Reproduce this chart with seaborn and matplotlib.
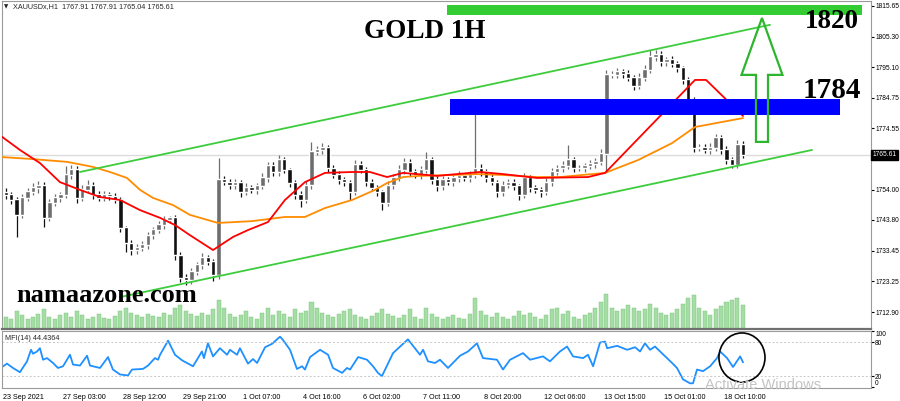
import numpy as np
import pandas as pd
import matplotlib
matplotlib.use('Agg')
import matplotlib.pyplot as plt
from matplotlib.patches import Ellipse, FancyArrow
import seaborn as sns

# XAUUSD H1, read as 3-hour candles; x is measured in hourly bars from 23 Sep
first_open = 1753.0
closes = [
    1752.2, 1750.5, 1745.5, 1751.2, 1753.2, 1754.5, 1755.5, 1744.5, 1749.5, 1751.2,
    1752.2, 1758.9, 1760.6, 1751.2, 1753.9, 1755.5, 1752.2, 1751.2, 1752.2, 1751.8,
    1750.5, 1741.1, 1736.0, 1733.7, 1734.4, 1735.4, 1738.7, 1740.4, 1742.1, 1743.8,
    1744.5, 1732.0, 1724.3, 1723.6, 1726.3, 1728.7, 1731.0, 1729.7, 1725.3, 1757.2,
    1756.5, 1755.5, 1756.2, 1753.2, 1754.5, 1753.9, 1755.2, 1757.9, 1761.9, 1759.9,
    1763.9, 1760.6, 1756.2, 1752.2, 1750.5, 1755.5, 1766.6, 1767.3, 1768.0, 1761.2,
    1758.9, 1757.2, 1756.5, 1753.2, 1762.3, 1760.6, 1756.5, 1754.5, 1753.2, 1749.5,
    1755.5, 1757.9, 1760.6, 1762.9, 1759.9, 1758.9, 1760.6, 1763.9, 1757.2, 1755.2,
    1757.2, 1756.5, 1757.9, 1758.6, 1757.9, 1758.9, 1761.2, 1759.9, 1757.9, 1756.5,
    1753.2, 1755.5, 1756.5, 1755.2, 1752.2, 1757.9, 1754.5, 1753.9, 1753.2, 1756.5,
    1759.9, 1761.2, 1761.9, 1763.9, 1761.2, 1761.2, 1761.9, 1762.6, 1763.3, 1766.0,
    1792.5, 1792.5, 1793.5, 1792.8, 1791.5, 1788.8, 1791.5, 1794.2, 1798.5, 1799.2,
    1796.8, 1797.5, 1796.2, 1794.8, 1790.8, 1784.1, 1768.0, 1768.0, 1767.3, 1768.0,
    1771.3, 1767.3, 1763.9, 1762.3, 1769.0, 1765.61,
]
wick_up = [
    1.5, 1.0, 1.0, 1.4, 1.2, 1.6, 1.5, 1.0, 1.3, 1.2,
    1.0, 3.1, 1.6, 1.2, 1.5, 1.8, 1.0, 1.2, 1.4, 1.0,
    1.1, 1.0, 0.8, 1.0, 1.3, 1.5, 1.2, 1.0, 1.4, 1.2,
    0.6, 0.8, 1.0, 1.2, 1.5, 1.0, 1.8, 1.2, 1.0, 7.4,
    1.5, 1.2, 1.4, 1.0, 1.6, 1.2, 1.0, 1.8, 1.5, 1.2,
    1.6, 1.0, 0.8, 1.0, 1.2, 1.5, 3.4, 1.2, 1.6, 1.0,
    1.2, 1.4, 1.0, 0.8, 1.6, 1.2, 1.0, 1.2, 1.0, 0.8,
    1.5, 1.2, 1.6, 1.8, 1.2, 1.0, 1.4, 2.7, 1.0, 1.2,
    1.4, 1.0, 1.2, 1.5, 1.0, 1.2, 20.2, 1.4, 1.0, 1.2,
    0.8, 1.4, 1.2, 1.0, 0.8, 1.6, 1.0, 1.2, 1.0, 1.5,
    1.4, 1.2, 1.6, 5.1, 1.0, 1.2, 1.0, 1.4, 1.2, 1.6,
    1.5, 1.2, 1.4, 1.0, 1.2, 1.0, 1.5, 1.6, 2.4, 1.7,
    1.2, 1.0, 1.2, 1.0, 0.8, 1.0, 1.0, 1.2, 1.4, 1.6,
    1.5, 1.0, 1.2, 1.0, 1.6, 1.2,
]
wick_dn = [
    1.2, 1.4, 7.4, 1.0, 1.2, 1.0, 1.5, 3.1, 1.2, 1.0,
    1.4, 1.0, 1.2, 1.6, 1.0, 1.2, 1.4, 1.0, 1.2, 1.3,
    1.0, 1.5, 3.0, 1.6, 1.2, 1.0, 1.2, 1.4, 1.0, 1.2,
    1.0, 1.6, 1.4, 1.8, 1.2, 1.0, 1.2, 1.0, 2.1, 1.2,
    1.0, 1.4, 1.2, 1.6, 1.0, 1.2, 1.4, 1.0, 1.2, 1.5,
    1.2, 1.0, 1.4, 1.2, 2.3, 1.0, 1.2, 1.0, 1.4, 1.2,
    1.0, 1.2, 1.4, 2.7, 1.0, 1.2, 1.4, 1.0, 1.2, 2.4,
    1.0, 1.2, 1.0, 1.4, 1.2, 1.0, 1.2, 1.0, 1.4, 1.6,
    1.2, 1.0, 1.4, 1.2, 1.0, 1.2, 1.0, 1.4, 1.2, 1.0,
    1.6, 1.2, 1.0, 1.2, 1.7, 1.0, 1.4, 1.2, 1.6, 1.0,
    1.2, 1.0, 1.4, 1.0, 1.2, 1.0, 1.2, 1.0, 1.2, 1.0,
    6.0, 1.2, 1.0, 1.4, 1.2, 1.5, 1.0, 1.2, 1.0, 1.2,
    1.4, 1.2, 1.0, 1.2, 1.5, 1.2, 1.4, 1.2, 1.0, 1.2,
    1.0, 1.4, 1.2, 1.0, 1.2, 1.0,
]
volumes = [
    12, 10, 18, 14, 10, 12, 15, 20, 12, 10,
    14, 16, 12, 18, 14, 10, 12, 15, 11, 10,
    13, 18, 22, 16, 14, 12, 15, 13, 12, 16,
    14, 22, 25, 18, 15, 13, 16, 14, 20, 30,
    22, 15, 12, 14, 18, 12, 10, 16, 22, 14,
    18, 15, 12, 20, 16, 18, 28, 22, 16, 14,
    12, 15, 18, 20, 14, 12, 10, 13, 16, 20,
    15, 13, 11, 14, 20, 12, 10, 22, 15, 12,
    10, 12, 14, 11, 10, 15, 32, 18, 14, 12,
    16, 12, 10, 13, 18, 14, 16, 12, 10, 14,
    20, 22, 15, 18, 12, 10, 14, 16, 22, 28,
    36, 22, 18, 20, 25, 22, 18, 20, 26, 22,
    16, 14, 16, 20, 26, 32, 35, 22, 18, 14,
    20, 24, 28, 30, 32, 25,
]

# moving averages (orange = slow, red = fast/shifted)
ma_slow_hours = [-0.5, 14.8, 35.2, 49.5, 58.8, 68.1, 75.3, 82.4, 93.4, 102.7, 118.1, 136.8,
                 154.9, 165.9, 176.9, 191.8, 204.4, 211.0, 219.8, 229.1, 247.3, 260.4,
                 274.7, 293.4, 306.0, 330.8, 348.9, 367.6, 380.2, 395.1, 406.6]
ma_slow = [1764.9, 1764.3, 1763.3, 1761.6, 1759.9, 1757.9, 1753.9, 1751.2, 1748.8, 1745.5,
           1742.8, 1743.4, 1744.8, 1744.8, 1747.8, 1750.5, 1753.9, 1756.2, 1758.2, 1758.6,
           1758.9, 1759.2, 1758.9, 1758.2, 1758.2, 1759.6, 1763.9, 1769.6, 1775.0, 1776.7,
           1778.0]
ma_fast_hours = [-0.5, 9.3, 20.3, 31.3, 42.3, 53.3, 64.3, 75.3, 86.3, 94.5, 102.7, 115.4,
                 126.4, 134.6, 145.6, 154.9, 165.9, 176.9, 191.8, 201.6, 211.0, 219.8,
                 238.5, 262.1, 274.7, 293.4, 321.4, 330.8, 380.2, 386.3, 406.6]
ma_fast = [1771.7, 1767.3, 1762.9, 1756.5, 1753.9, 1751.5, 1750.5, 1747.1, 1744.5, 1742.1,
           1738.7, 1733.7, 1738.1, 1740.4, 1743.1, 1750.5, 1756.5, 1759.6, 1759.9, 1759.9,
           1758.2, 1759.6, 1758.6, 1759.9, 1759.2, 1757.9, 1758.2, 1759.6, 1790.8, 1790.8,
           1778.7]

# trend channel, levels
upper_ch_hours = [42.3, 421.4]
upper_ch = [1759.9, 1809.3]
lower_ch_hours = [64.3, 444.5]
lower_ch = [1717.9, 1767.3]

# MFI(14)
mfi_hours = [-0.5, 2.2, 5.5, 9.3, 13.2, 15.4, 16.5, 18.7, 20.3, 22.0, 24.2, 27.5, 30.2, 33.0,
             36.8, 38.5, 42.3, 46.2, 47.8, 53.3, 57.7, 60.4, 64.3, 68.7, 70.9, 76.9, 79.7,
             83.5, 85.2, 86.3, 90.7, 94.5, 98.4, 104.4, 109.3, 110.4, 112.6, 115.4, 119.2,
             123.1, 124.7, 128.6, 130.2, 134.6, 137.4, 139.6, 144.0, 147.8, 152.2, 153.8,
             157.7, 161.5, 164.3, 165.9, 168.7, 174.2, 178.6, 181.3, 186.3, 189.0, 190.7,
             195.1, 200.0, 203.3, 206.0, 208.2, 214.3, 219.2, 222.5, 229.1, 230.8, 233.5,
             237.4, 240.1, 244.5, 251.1, 255.5, 260.4, 263.7, 271.4, 274.7, 278.6, 285.7,
             289.6, 296.7, 300.5, 306.0, 309.9, 313.2, 318.7, 321.4, 324.2, 328.0, 330.8,
             331.9, 337.4, 342.9, 347.3, 350.0, 352.7, 355.5, 358.2, 364.8, 367.6, 370.3,
             373.6, 377.5, 379.1, 381.3, 384.6, 388.5, 392.3, 394.0, 397.8, 401.1, 405.0,
             406.6]
mfi = [36.2, 42.2, 34.5, 27.0, 46.2, 66.7, 59.7, 63.7, 69.5, 49.1, 52.0, 43.3, 34.5, 37.5,
       57.9, 40.5, 38.8, 56.2, 38.8, 34.5, 53.8, 31.7, 23.0, 21.2, 31.7, 32.8, 38.8,
       52.0, 49.1, 57.9, 82.9, 57.9, 48.0, 37.5, 63.7, 52.0, 78.2, 55.0, 69.5,
       57.9, 66.7, 57.9, 69.5, 42.2, 50.3, 43.3, 71.2, 77.2, 89.9, 84.2,
       66.7, 32.8, 37.5, 31.7, 53.8, 66.7, 57.9, 34.5, 25.8, 34.5, 31.7,
       53.8, 49.1, 37.5, 25.8, 20.1, 60.8, 75.5, 85.2, 57.9, 66.7, 46.2,
       43.3, 49.1, 34.5, 56.2, 63.7, 78.2, 52.0, 49.1, 31.7, 49.1, 60.8,
       49.1, 55.0, 46.2, 63.7, 72.5, 55.0, 52.0, 57.9, 37.5, 79.5, 81.2,
       69.5, 73.7, 66.7, 71.2, 63.7, 78.2, 66.7, 72.5, 52.0, 43.3, 34.5,
       14.3, 7.3, 7.3, 31.7, 28.8, 37.5, 52.0, 63.7, 52.0, 36.2, 55.0,
       44.4]

date_labels = ['23 Sep 2021', '27 Sep 03:00', '28 Sep 12:00', '29 Sep 21:00', '1 Oct 07:00',
               '4 Oct 16:00', '6 Oct 02:00', '7 Oct 11:00', '8 Oct 20:00', '12 Oct 06:00',
               '13 Oct 15:00', '15 Oct 01:00', '18 Oct 10:00']
price_ticks = [1815.65, 1805.30, 1795.10, 1784.75, 1774.55, 1764.35, 1754.00, 1743.80,
               1733.45, 1723.25, 1712.90]
last_price = 1765.61

sns.set_style('white')
plt.rcParams['font.family'] = ['Liberation Sans', 'DejaVu Sans']
small = 5.2
axis_small = 4.8

fig = plt.figure(figsize=(9, 4.01), dpi=100)
ax = fig.add_axes([0.0022, 0.1796, 0.9656, 0.8179])
vax = fig.add_axes([0.0022, 0.1796, 0.9656, 0.0973], sharex=ax)
mx = fig.add_axes([0.0022, 0.0324, 0.9656, 0.1422], sharex=ax)

x_min, x_max = -0.55, 476.9
ax.set_xlim(x_min, x_max)
ax.set_ylim(1707.2, 1817.3)

# volume strip behind the candles
hours = 1.5 + 3 * np.arange(len(closes))
vax.bar(hours, volumes, width=2.2, color='#a6dca6', edgecolor='#74c474', linewidth=0.3)
vax.set_ylim(0, 40)
vax.patch.set_alpha(0)
vax.axis('off')
ax.set_zorder(2)
ax.patch.set_alpha(0)

# current price line
ax.axhline(last_price, color='#dcdcdc', lw=1, zorder=0)

# candles
c = np.array(closes)
opens = np.r_[first_open, c[:-1]]
highs = np.maximum(opens, c) + np.array(wick_up)
lows = np.minimum(opens, c) - np.array(wick_dn)
colors = np.where(c >= opens, '#6e6e6e', '#111111')
ax.vlines(hours, lows, highs, colors=colors, lw=0.9, zorder=3)
ax.bar(hours, np.abs(c - opens) + 0.2, bottom=np.minimum(opens, c), width=2.4,
       color=colors, zorder=3)

# moving averages and channel
df_slow = pd.DataFrame({'hour': ma_slow_hours, 'price': ma_slow})
df_fast = pd.DataFrame({'hour': ma_fast_hours, 'price': ma_fast})
sns.lineplot(data=df_slow, x='hour', y='price', ax=ax, color='#ff8c00', lw=1.3, zorder=4)
sns.lineplot(data=df_fast, x='hour', y='price', ax=ax, color='#ff0000', lw=1.3, zorder=4)
sns.lineplot(x=upper_ch_hours, y=upper_ch, ax=ax, color='#3ccc3c', lw=1.3, zorder=4)
sns.lineplot(x=lower_ch_hours, y=lower_ch, ax=ax, color='#3ccc3c', lw=1.3, zorder=4)

# target / resistance zones
ax.fill_between([244, 472], 1812.6, 1816.0, color='#33cc33', lw=0, zorder=5)
ax.fill_between([245.6, 459.9], 1779.0, 1784.5, color='#0000ff', lw=0, zorder=5)
ax.add_patch(FancyArrow(417, 1770.0, 0, 41.6, width=6.6, head_width=22.5, head_length=19.1,
                        length_includes_head=True, fill=False, edgecolor='#2db52d', lw=1.6,
                        zorder=6))

serif = dict(family='Liberation Serif', weight='bold', color='black', zorder=7)
ax.text(231.9, 1806.9, 'GOLD 1H', fontsize=19.5, ha='center', va='center', **serif)
ax.text(455.5, 1810.3, '1820', fontsize=19.5, ha='center', va='center', **serif)
ax.text(455.5, 1787.4, '1784', fontsize=21, ha='center', va='center', **serif)
ax.text(57.1, 1718.6, 'namaazone.com', fontsize=19, ha='center', va='center', **serif)

ax.yaxis.tick_right()
ax.set_yticks(price_ticks)
ax.set_yticklabels([f'{p:.2f}' for p in price_ticks])
ax.tick_params(axis='y', length=2, labelsize=axis_small, colors='black', pad=1)
ax.tick_params(axis='x', length=0, labelbottom=False)
ax.set_xlabel('')
ax.set_ylabel('')
for s in ax.spines.values():
    s.set_color('#9a9a9a')
    s.set_linewidth(0.8)
ax.spines['bottom'].set_color('#707070')
ax.spines['bottom'].set_linewidth(1.6)

fig.text(0.9695, 1 - 155 / 401, f'{last_price:.2f}', fontsize=axis_small, color='white',
         ha='left', va='center', zorder=10,
         bbox=dict(boxstyle='square,pad=0.2', fc='black', ec='black'))
fig.text(0.004, 0.984, '\u25bc', fontsize=4, ha='left', va='center',
         family='DejaVu Sans')
fig.text(0.014, 0.984, 'XAUUSDx,H1  1767.91 1767.91 1765.04 1765.61', fontsize=small,
         ha='left', va='center')

# MFI panel
df_mfi = pd.DataFrame({'hour': mfi_hours, 'mfi': mfi})
sns.lineplot(data=df_mfi, x='hour', y='mfi', ax=mx, color='#1e90ff', lw=1.3)
mx.set_ylim(-1, 100)
mx.axhline(80, color='#c8c8c8', lw=0.7, ls=(0, (2, 2)))
mx.axhline(20, color='#c8c8c8', lw=0.7, ls=(0, (2, 2)))
mx.yaxis.tick_right()
mx.set_yticks([100, 80, 20, 0])
mx.set_yticklabels(['100', '80', '20', '0'])
mx.tick_params(axis='y', length=2, labelsize=axis_small, colors='black', pad=1)
ylabels = mx.get_yticklabels()
ylabels[0].set_va('top')
ylabels[-1].set_va('bottom')
mx.set_xticks([33 * i for i in range(len(date_labels))])
mx.set_xticklabels(date_labels, ha='left')
mx.tick_params(axis='x', length=3, labelsize=small, colors='black', pad=1)
mx.set_xlim(x_min, x_max)
mx.set_xlabel('')
mx.set_ylabel('')
for s in mx.spines.values():
    s.set_color('#9a9a9a')
    s.set_linewidth(0.8)
mx.text(0.004, 0.93, 'MFI(14) 44.4364', transform=mx.transAxes, fontsize=small, va='top')
mx.add_patch(Ellipse((406, 53), 25.3, 87, fill=False, edgecolor='black', lw=1.2,
                     clip_on=False, zorder=5))

fig.text(705 / 900, 1 - 385 / 401, 'Activate Windows', fontsize=10.5, color='#c4c4c4',
         ha='left', va='center')

fig.savefig('out.png', dpi=100)
